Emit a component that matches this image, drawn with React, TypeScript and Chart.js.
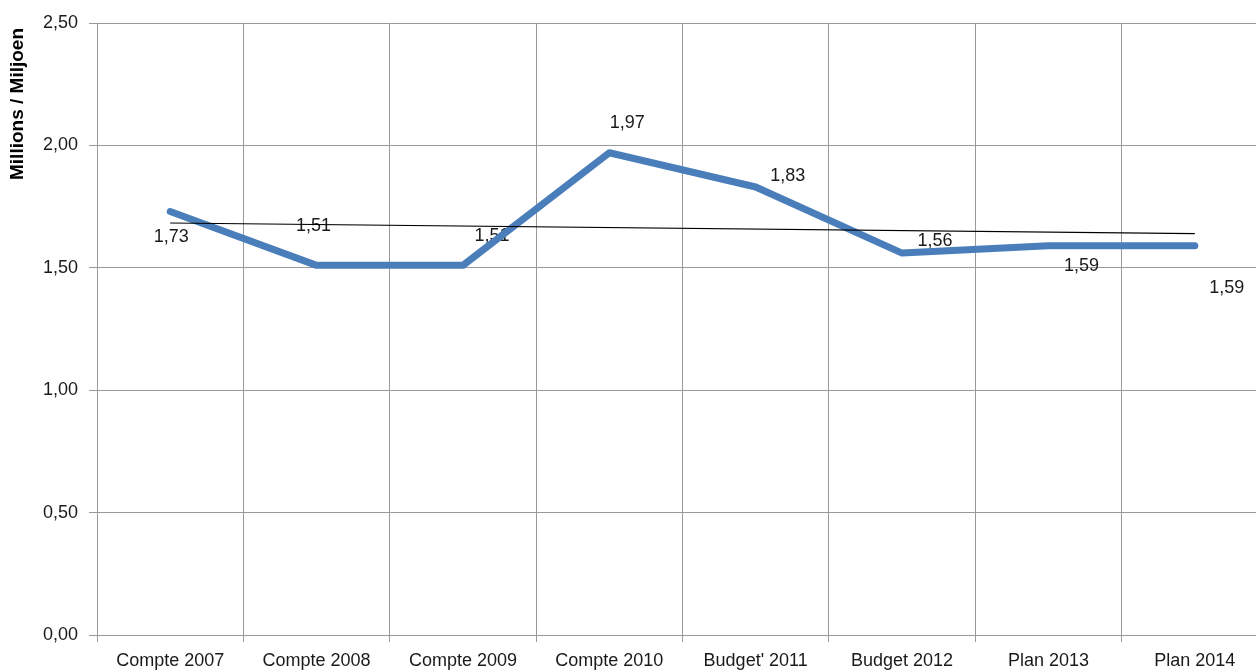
import React, { useEffect, useRef } from "react";
import { Chart, registerables } from "chart.js";

Chart.register(...registerables);

const categories = [
  "Compte 2007",
  "Compte 2008",
  "Compte 2009",
  "Compte 2010",
  "Budget' 2011",
  "Budget 2012",
  "Plan 2013",
  "Plan 2014",
];
const values = [1.73, 1.51, 1.51, 1.97, 1.83, 1.56, 1.59, 1.59];
const trendValues = [1.683, null, null, null, null, null, null, 1.64];
const yTicks = [0, 0.5, 1, 1.5, 2, 2.5];
const axisTitle = "Millions / Miljoen";

const fmt = (v: number) => v.toFixed(2).replace(".", ",");

const FONT = '"Liberation Sans", Arial, sans-serif';

const valueLabels = {
  id: "valueLabels",
  beforeDatasetsDraw(chart: any, _args: any, opts: any) {
    const meta = chart.getDatasetMeta(1);
    const ctx = chart.ctx;
    ctx.save();
    ctx.font = `18px ${FONT}`;
    ctx.fillStyle = "#1a1a1a";
    ctx.textAlign = "center";
    ctx.textBaseline = "middle";
    meta.data.forEach((pt: any, i: number) => {
      const s = opts.shifts[i] || [0, 0];
      ctx.fillText(fmt(values[i]), pt.x + s[0], pt.y + s[1]);
    });
    ctx.restore();
  },
  afterDraw(chart: any, _args: any, opts: any) {
    const ctx = chart.ctx;
    ctx.save();
    ctx.translate(opts.titleX, opts.titleY);
    ctx.rotate(-Math.PI / 2);
    ctx.font = `bold 19px ${FONT}`;
    ctx.fillStyle = "#000000";
    ctx.textAlign = "center";
    ctx.textBaseline = "middle";
    ctx.fillText(axisTitle, 0, 0);
    ctx.restore();
  },
};

export default function App() {
  const ref = useRef<HTMLCanvasElement>(null);
  useEffect(() => {
    if (!ref.current) return;
    const chart = new Chart(ref.current, {
      type: "line",
      data: {
        labels: categories,
        datasets: [
          {
            label: "Trend",
            data: trendValues,
            borderColor: "#000000",
            borderWidth: 1.2,
            pointRadius: 0,
            spanGaps: true,
            order: 0,
          },
          {
            label: "Values",
            data: values,
            borderColor: "#4A7EBB",
            borderWidth: 7,
            pointRadius: 0,
            borderCapStyle: "round",
            borderJoinStyle: "round",
            tension: 0,
            order: 1,
          },
        ],
      },
      options: {
        responsive: false,
        animation: false,
        devicePixelRatio: 1,
        layout: { padding: { top: 23, right: 2, left: 0, bottom: 0 } },
        plugins: {
          legend: { display: false },
          tooltip: { enabled: false },
          valueLabels: {
            titleX: 18,
            titleY: 104,
            shifts: [
              [1, 26],
              [-3, -39],
              [29, -29],
              [18, -30],
              [32, -11],
              [33, -12],
              [33, 20],
              [32, 42],
            ],
          },
        } as any,
        scales: {
          x: {
            offset: true,
            grid: {
              offset: true,
              color: "#999999",
              tickLength: 7,
              drawTicks: true,
            },
            border: { color: "#999999" },
            ticks: {
              color: "#1a1a1a",
              font: { family: FONT, size: 18 },
              padding: 8,
              maxRotation: 0,
              autoSkip: false,
            },
            afterFit: (scale: any) => {
              scale.height = 36;
            },
          },
          y: {
            min: 0,
            max: 2.5,
            afterBuildTicks: (scale: any) => {
              scale.ticks = yTicks.map((v) => ({ value: v }));
            },
            grid: { color: "#999999", tickLength: 8 },
            border: { color: "#999999" },
            ticks: {
              color: "#1a1a1a",
              font: { family: FONT, size: 18 },
              padding: 11,
              callback: (v: any) => fmt(Number(v)),
            },
            title: { display: false },
            afterFit: (scale: any) => {
              scale.width = 97;
            },
          },
        },
      },
      plugins: [valueLabels],
    });
    return () => chart.destroy();
  }, []);
  return (
    <div
      style={{
        position: "fixed",
        left: 0,
        top: 0,
        width: 1256,
        height: 671,
        overflow: "hidden",
        background: "#ffffff",
      }}
    >
      <canvas
        ref={ref}
        width={1270}
        height={671}
        style={{ display: "block", width: 1270, height: 671 }}
      />
    </div>
  );
}
